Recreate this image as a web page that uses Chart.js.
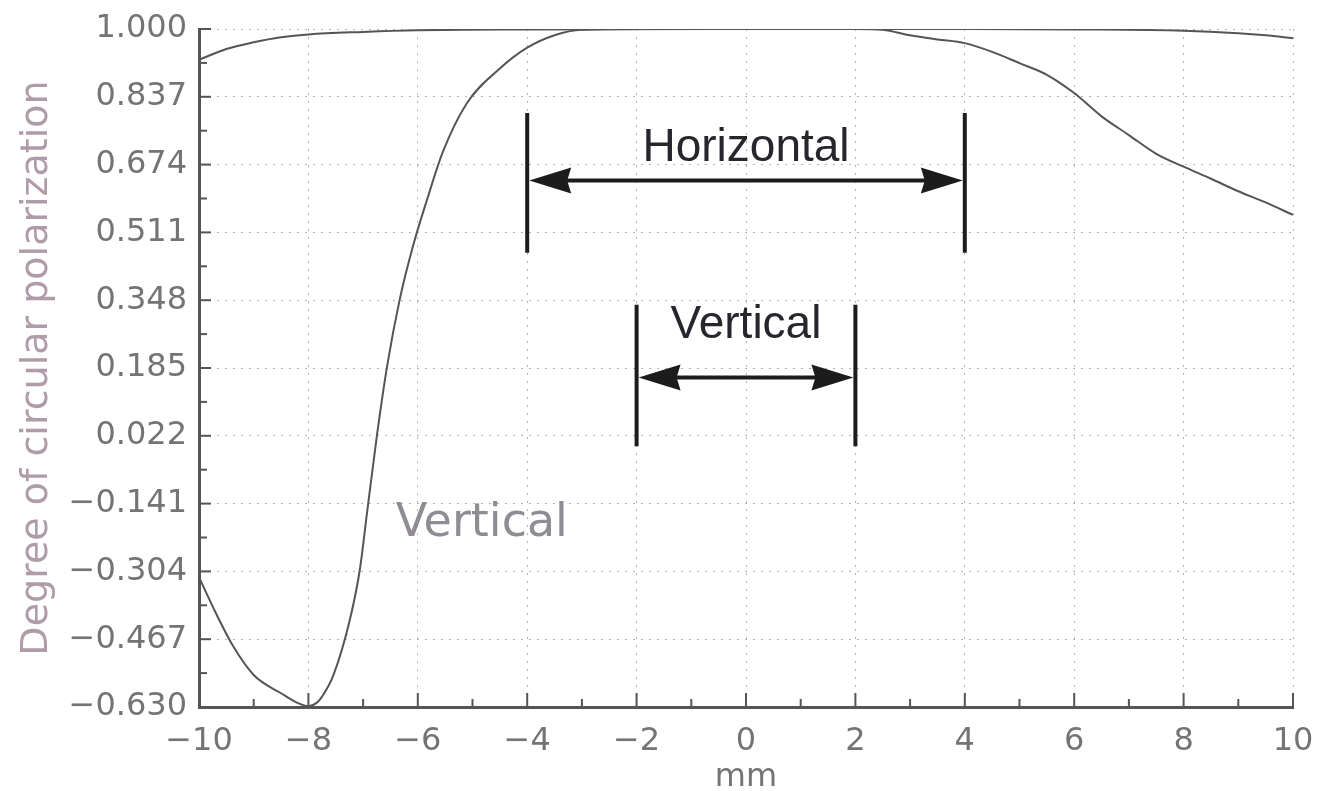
<!DOCTYPE html>
<html>
<head>
<meta charset="utf-8">
<script src="https://cdn.jsdelivr.net/npm/chart.js@4"></script>
<style>
html,body{margin:0;padding:0;background:#fff;}
#wrap{width:1319px;height:791px;position:relative;}
</style>
</head>
<body>
<div id="wrap"><canvas id="c" width="1319" height="791"></canvas></div>
<script>
// ---- data ----
const xTicks = [-10, -8, -6, -4, -2, 0, 2, 4, 6, 8, 10];
const yTicks = [-0.630, -0.467, -0.304, -0.141, 0.022, 0.185, 0.348, 0.511, 0.674, 0.837, 1.000];

const horizX = [-10, -9.5, -9, -8.5, -8, -7, -6, -4, 0, 4, 6, 8, 9, 9.5, 10];
const horizY = [0.926, 0.952, 0.968, 0.980, 0.987, 0.993, 0.997, 0.999, 1.0, 1.0, 0.999, 0.996, 0.990, 0.985, 0.978];

const vertX = [-10, -9.67, -9.38, -9, -8.5, -8.2, -8.0, -7.85, -7.75, -7.55, -7.24, -7.06, -6.93, -6.75, -6.56, -6.33, -6.09, -5.83, -5.54, -5.1, -4.5, -4, -3.5, -3, -2, 0, 2, 2.5, 3, 3.5, 4, 4.5, 5, 5.5, 6, 6.5, 7, 7.5, 8, 8.5, 9, 9.5, 10];
const vertY = [-0.318, -0.410, -0.483, -0.553, -0.597, -0.620, -0.628, -0.620, -0.605, -0.556, -0.419, -0.300, -0.165, 0.020, 0.190, 0.350, 0.477, 0.590, 0.705, 0.822, 0.905, 0.955, 0.985, 0.998, 1.0, 1.0, 1.0, 0.998, 0.985, 0.975, 0.966, 0.945, 0.918, 0.890, 0.846, 0.790, 0.745, 0.700, 0.669, 0.640, 0.610, 0.583, 0.553];

// annotation spans (data units)
const horizSpan = { label: "Horizontal", from: -4, to: 4, yTop: 0.798, yBottom: 0.462, yArrow: 0.636, yText: 0.714 };
const vertSpan  = { label: "Vertical",   from: -2, to: 2, yTop: 0.337, yBottom: -0.003, yArrow: 0.162, yText: 0.287 };
const curveLabel = { text: "Vertical", x: -4.83, y: -0.19 };

const fmt = v => (v < 0 ? "\u2212" : "") + Math.abs(v).toFixed(3);
const fmtX = v => (v < 0 ? "\u2212" : "") + Math.abs(v);

function toPts(xs, ys){ return xs.map((x,i)=>({x:x, y:ys[i]})); }

const annot = {
  id: 'annot',
  afterDatasetsDraw(chart){
    const ctx = chart.ctx, xs = chart.scales.x, ys = chart.scales.y;
    const area = chart.chartArea;
    ctx.save();
    // inward ticks
    ctx.strokeStyle = '#555'; ctx.lineWidth = 2;
    for (let v = -10; v <= 10; v += 1) {
      const px = xs.getPixelForValue(v);
      const len = (v % 2 === 0) ? 14 : 8;
      ctx.beginPath(); ctx.moveTo(px, area.bottom); ctx.lineTo(px, area.bottom - len); ctx.stroke();
    }
    for (let i = 0; i < yTicks.length; i++) {
      const py = ys.getPixelForValue(yTicks[i]);
      ctx.beginPath(); ctx.moveTo(area.left, py); ctx.lineTo(area.left + 12, py); ctx.stroke();
      if (i < yTicks.length - 1) {
        const pm = ys.getPixelForValue((yTicks[i] + yTicks[i+1]) / 2);
        ctx.beginPath(); ctx.moveTo(area.left, pm); ctx.lineTo(area.left + 8, pm); ctx.stroke();
      }
    }
    // spans
    [horizSpan, vertSpan].forEach(s => {
      const x1 = xs.getPixelForValue(s.from), x2 = xs.getPixelForValue(s.to);
      const yt = ys.getPixelForValue(s.yTop), yb = ys.getPixelForValue(s.yBottom);
      const ya = ys.getPixelForValue(s.yArrow);
      ctx.strokeStyle = '#1c1c1c'; ctx.fillStyle = '#1c1c1c';
      ctx.lineWidth = 4;
      ctx.beginPath(); ctx.moveTo(x1, yt); ctx.lineTo(x1, yb); ctx.stroke();
      ctx.beginPath(); ctx.moveTo(x2, yt); ctx.lineTo(x2, yb); ctx.stroke();
      ctx.beginPath(); ctx.moveTo(x1 + 30, ya); ctx.lineTo(x2 - 30, ya); ctx.stroke();
      // arrowheads
      ctx.beginPath(); ctx.moveTo(x1 + 2, ya); ctx.lineTo(x1 + 44, ya - 13); ctx.lineTo(x1 + 40, ya); ctx.lineTo(x1 + 44, ya + 13); ctx.closePath(); ctx.fill();
      ctx.beginPath(); ctx.moveTo(x2 - 2, ya); ctx.lineTo(x2 - 44, ya - 13); ctx.lineTo(x2 - 40, ya); ctx.lineTo(x2 - 44, ya + 13); ctx.closePath(); ctx.fill();
      ctx.font = '46px "Liberation Sans", Arial, sans-serif';
      ctx.textAlign = 'center'; ctx.textBaseline = 'middle';
      ctx.fillStyle = '#26262c';
      ctx.fillText(s.label, (x1 + x2) / 2, ys.getPixelForValue(s.yText));
    });
    // curve label
    ctx.font = '46px "DejaVu Sans", sans-serif';
    ctx.fillStyle = '#908c94';
    ctx.textAlign = 'center'; ctx.textBaseline = 'middle';
    ctx.fillText(curveLabel.text, xs.getPixelForValue(curveLabel.x), ys.getPixelForValue(curveLabel.y));
    ctx.restore();
  }
};

const tickFont = { family: '"DejaVu Sans", sans-serif', size: 32 };

new Chart(document.getElementById('c'), {
  type: 'line',
  data: {
    datasets: [
      { label: 'Horizontal', data: toPts(horizX, horizY), borderColor: '#555', borderWidth: 2, pointRadius: 0, cubicInterpolationMode: 'monotone', fill: false },
      { label: 'Vertical', data: toPts(vertX, vertY), borderColor: '#555', borderWidth: 2, pointRadius: 0, cubicInterpolationMode: 'monotone', fill: false }
    ]
  },
  options: {
    responsive: false,
    animation: false,
    events: [],
    layout: { padding: { top: 29, right: 26, left: 0, bottom: 0 } },
    plugins: { legend: { display: false }, tooltip: { enabled: false } },
    scales: {
      x: {
        type: 'linear', min: -10, max: 10,
        afterBuildTicks: s => { s.ticks = xTicks.map(v => ({ value: v })); },
        afterFit: s => { s.height = 84; s.paddingLeft = 0; s.paddingRight = 0; },
        grid: { color: '#b4b4b4', lineWidth: 1, drawTicks: false },
        border: { color: '#555', width: 3, dash: [2, 6] },
        ticks: { color: '#747474', font: tickFont, padding: 15, maxRotation: 0, callback: v => fmtX(v) },
        title: { display: true, text: 'mm', color: '#747474', font: { family: '"DejaVu Sans", sans-serif', size: 32 }, padding: { top: 0, bottom: -6 } }
      },
      y: {
        type: 'linear', min: -0.630, max: 1.000,
        afterBuildTicks: s => { s.ticks = yTicks.map(v => ({ value: v })); },
        afterFit: s => { s.width = 199; s.paddingTop = 0; s.paddingBottom = 0; },
        grid: { color: '#b4b4b4', lineWidth: 1, drawTicks: false },
        border: { color: '#555', width: 3, dash: [2, 6] },
        ticks: { color: '#747474', font: tickFont, padding: 12, callback: v => fmt(v) },
        title: { display: true, text: 'Degree of circular polarization', color: '#b09ca8', font: { family: '"DejaVu Sans", sans-serif', size: 38 }, padding: { top: 14, bottom: 0 } }
      }
    }
  },
  plugins: [annot]
});
</script>
</body>
</html>
